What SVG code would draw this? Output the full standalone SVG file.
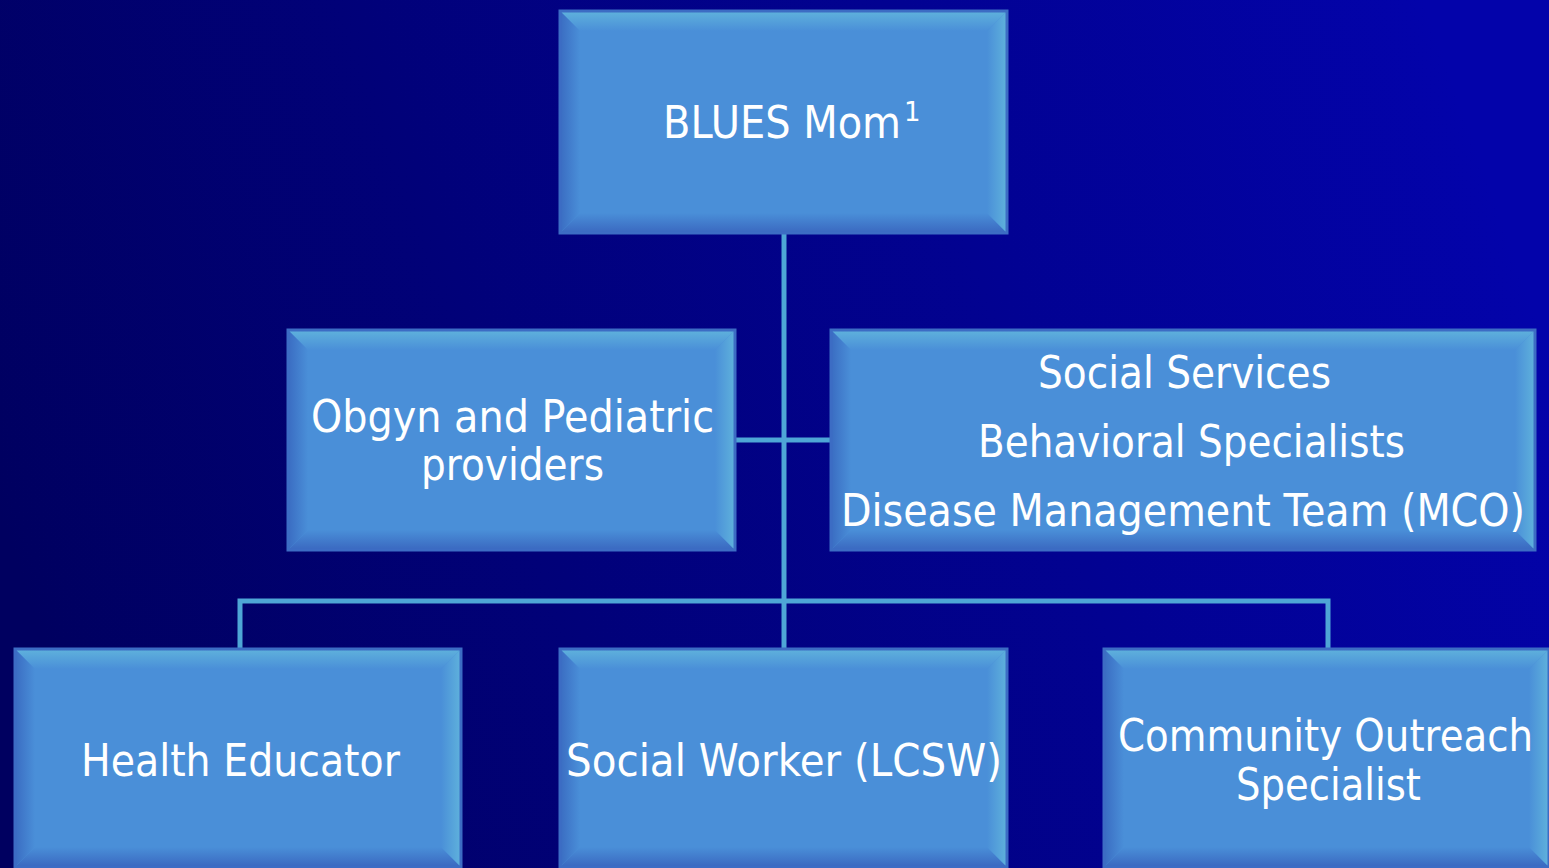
<svg xmlns="http://www.w3.org/2000/svg" width="1549" height="868" viewBox="0 0 1549 868">
<defs>
<linearGradient id="bg" x1="0" y1="0.6" x2="1" y2="0.4">
<stop offset="0" stop-color="#000060"/>
<stop offset="1" stop-color="#0303aa"/>
</linearGradient>
<linearGradient id="gT" x1="0" y1="0" x2="0" y2="1"><stop offset="0" stop-color="#5fb2dc"/><stop offset="1" stop-color="#4a8fd8"/></linearGradient>
<linearGradient id="gB" x1="0" y1="1" x2="0" y2="0"><stop offset="0" stop-color="#3a68c0"/><stop offset="1" stop-color="#4a8fd8"/></linearGradient>
<linearGradient id="gL" x1="0" y1="0" x2="1" y2="0"><stop offset="0" stop-color="#3a6cc2"/><stop offset="1" stop-color="#4a8fd8"/></linearGradient>
<linearGradient id="gR" x1="1" y1="0" x2="0" y2="0"><stop offset="0" stop-color="#5fb2dc"/><stop offset="1" stop-color="#4a8fd8"/></linearGradient>
<style>
.f{fill:#4a8fd8}
.t{fill:url(#gT)}
.b{fill:url(#gB)}
.l{fill:url(#gL)}
.r{fill:url(#gR)}
.o{fill:none;stroke:#3c6cc4;stroke-width:3}
.tx{font-family:"DejaVu Sans","Liberation Sans",sans-serif;font-size:45px;fill:#ffffff}
.c{stroke:#4ea6d6;stroke-width:5;fill:none}
</style>
</defs>
<rect x="0" y="0" width="1549" height="868" fill="url(#bg)"/>
<g id="connectors">
<line class="c" x1="784" y1="234" x2="784" y2="649"/>
<line class="c" x1="736" y1="440" x2="831" y2="440"/>
<polyline class="c" points="240,649 240,601 1328,601 1328,649"/>
</g>
<g id="node-blues-mom" transform="translate(560,11)">
<rect class="f" x="0" y="0" width="447" height="222"/>
<polygon class="t" points="0,0 447,0 427,20 20,20"/>
<polygon class="b" points="0,222 447,222 427,202 20,202"/>
<polygon class="l" points="0,0 20,20 20,202 0,222"/>
<polygon class="r" points="447,0 427,20 427,202 447,222"/>
<rect class="o" x="0" y="0" width="447" height="222"/>
<text class="tx" x="103" y="127"><tspan textLength="238" lengthAdjust="spacingAndGlyphs">BLUES Mom</tspan><tspan font-size="26" dx="3" dy="-17">1</tspan></text>
</g>
<g id="node-obgyn" transform="translate(288,330)">
<rect class="f" x="0" y="0" width="447" height="220"/>
<polygon class="t" points="0,0 447,0 427,20 20,20"/>
<polygon class="b" points="0,220 447,220 427,200 20,200"/>
<polygon class="l" points="0,0 20,20 20,200 0,220"/>
<polygon class="r" points="447,0 427,20 427,200 447,220"/>
<rect class="o" x="0" y="0" width="447" height="220"/>
<text class="tx" x="23" y="102" textLength="403" lengthAdjust="spacingAndGlyphs">Obgyn and Pediatric</text>
<text class="tx" x="133" y="150" textLength="183" lengthAdjust="spacingAndGlyphs">providers</text>
</g>
<g id="node-social-services" transform="translate(831,330)">
<rect class="f" x="0" y="0" width="704" height="220"/>
<polygon class="t" points="0,0 704,0 684,20 20,20"/>
<polygon class="b" points="0,220 704,220 684,200 20,200"/>
<polygon class="l" points="0,0 20,20 20,200 0,220"/>
<polygon class="r" points="704,0 684,20 684,200 704,220"/>
<rect class="o" x="0" y="0" width="704" height="220"/>
<text class="tx" x="207" y="58" textLength="293" lengthAdjust="spacingAndGlyphs">Social Services</text>
<text class="tx" x="147" y="127" textLength="427" lengthAdjust="spacingAndGlyphs">Behavioral Specialists</text>
<text class="tx" x="10" y="196" textLength="684" lengthAdjust="spacingAndGlyphs">Disease Management Team (MCO)</text>
</g>
<g id="node-health-educator" transform="translate(15,649)">
<rect class="f" x="0" y="0" width="446" height="218"/>
<polygon class="t" points="0,0 446,0 426,20 20,20"/>
<polygon class="b" points="0,218 446,218 426,198 20,198"/>
<polygon class="l" points="0,0 20,20 20,198 0,218"/>
<polygon class="r" points="446,0 426,20 426,198 446,218"/>
<rect class="o" x="0" y="0" width="446" height="218"/>
<text class="tx" x="66" y="127" textLength="319" lengthAdjust="spacingAndGlyphs">Health Educator</text>
</g>
<g id="node-social-worker" transform="translate(560,649)">
<rect class="f" x="0" y="0" width="447" height="218"/>
<polygon class="t" points="0,0 447,0 427,20 20,20"/>
<polygon class="b" points="0,218 447,218 427,198 20,198"/>
<polygon class="l" points="0,0 20,20 20,198 0,218"/>
<polygon class="r" points="447,0 427,20 427,198 447,218"/>
<rect class="o" x="0" y="0" width="447" height="218"/>
<text class="tx" x="6" y="127" textLength="436" lengthAdjust="spacingAndGlyphs">Social Worker (LCSW)</text>
</g>
<g id="node-community-outreach" transform="translate(1104,649)">
<rect class="f" x="0" y="0" width="445" height="218"/>
<polygon class="t" points="0,0 445,0 425,20 20,20"/>
<polygon class="b" points="0,218 445,218 425,198 20,198"/>
<polygon class="l" points="0,0 20,20 20,198 0,218"/>
<polygon class="r" points="445,0 425,20 425,198 445,218"/>
<rect class="o" x="0" y="0" width="445" height="218"/>
<text class="tx" x="14" y="102" textLength="415" lengthAdjust="spacingAndGlyphs">Community Outreach</text>
<text class="tx" x="132" y="151" textLength="185" lengthAdjust="spacingAndGlyphs">Specialist</text>
</g>
</svg>
